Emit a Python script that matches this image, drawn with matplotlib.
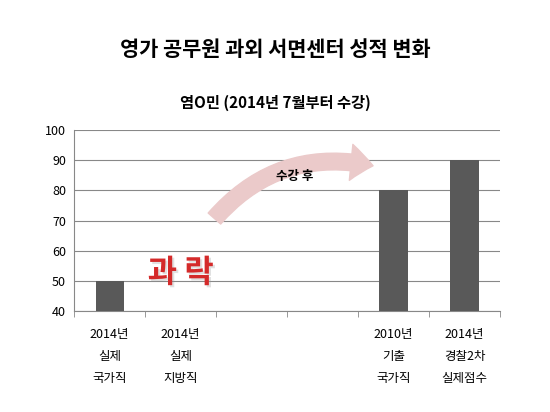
import matplotlib
matplotlib.use("Agg")
import matplotlib.pyplot as plt
import numpy as np
from matplotlib.patches import FancyArrowPatch
import matplotlib.patheffects as pe

plt.rcParams['font.family'] = ['Noto Sans CJK KR', 'DejaVu Sans']

categories = ["2014년\n실제\n국가직", "2014년\n실제\n지방직", "", "", "2010년\n기출\n국가직", "2014년\n경찰2차\n실제점수"]
values = [50, np.nan, np.nan, np.nan, 80, 90]
yticks = [40, 50, 60, 70, 80, 90, 100]

fig = plt.figure(figsize=(5.5, 4.12), dpi=100)
ax = fig.add_axes([0.135, 0.245, 0.774, 0.439])
x = np.arange(len(categories))
ax.bar(x, values, width=0.4, color="#595959", zorder=3)
ax.set_ylim(40, 100)
ax.set_xlim(-0.5, len(categories) - 0.5)
ax.set_yticks(yticks)
ax.tick_params(axis='y', length=0, labelsize=9, pad=6)
ax.yaxis.grid(True, color="#888888", linewidth=0.8, zorder=0)
ax.set_xticks(np.arange(len(categories) + 1) - 0.5, minor=True)
ax.set_xticks(x)
ax.set_xticklabels(categories, fontsize=9, linespacing=1.9, va='top')
ax.tick_params(axis='x', which='major', length=0, pad=12)
ax.tick_params(axis='x', which='minor', length=4, color="#888888")
for s in ["top", "right"]:
    ax.spines[s].set_visible(False)
ax.spines["left"].set_color("#888888")
ax.spines["bottom"].set_color("#888888")

arrow = FancyArrowPatch((1.45, 70), (3.75, 88), connectionstyle="arc3,rad=-0.3",
                        arrowstyle="simple,head_width=26,head_length=16,tail_width=12",
                        color="#ebcaca", zorder=2, mutation_scale=1)
ax.add_patch(arrow)
ax.text(2.6, 84.5, "수강 후", fontsize=9, fontweight='bold', ha='center', va='center', zorder=4)
ax.text(1.0, 52.5, "과 락", fontsize=23, fontweight='bold', color="#d42a2a", ha='center', va='center', zorder=4,
        path_effects=[pe.withSimplePatchShadow(offset=(1.5, -1.5), shadow_rgbFace="#999999")])

fig.text(0.5, 0.88, "영가 공무원 과외 서면센터 성적 변화", fontsize=15, fontweight='bold', ha='center', va='center')
fig.text(0.5, 0.75, "염O민 (2014년 7월부터 수강)", fontsize=11, fontweight='bold', ha='center', va='center')

fig.savefig("out.png", dpi=100)
